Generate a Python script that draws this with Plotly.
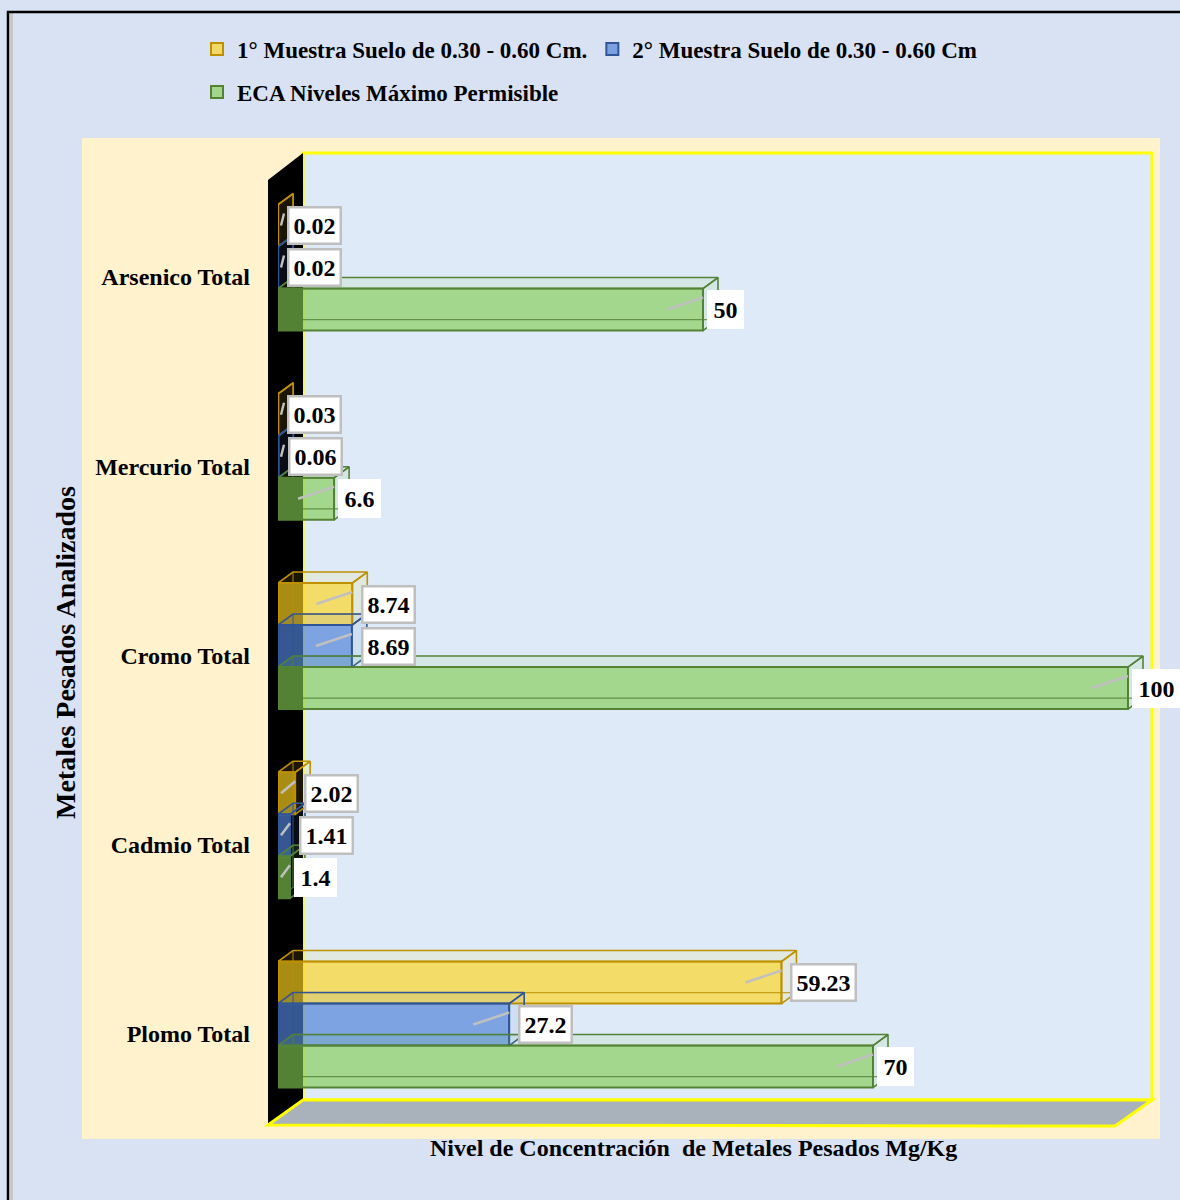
import plotly.graph_objects as go

# ---- data -------------------------------------------------------------
categorias = ["Plomo Total", "Cadmio Total", "Cromo Total", "Mercurio Total", "Arsenico Total"]
muestra_1 = [59.23, 2.02, 8.74, 0.03, 0.02]
muestra_2 = [27.2, 1.41, 8.69, 0.06, 0.02]
eca_max = [70, 1.4, 100, 6.6, 50]
series_nombres = [
    "1° Muestra Suelo de 0.30 - 0.60 Cm.",
    "2° Muestra Suelo de 0.30 - 0.60 Cm",
    "ECA Niveles Máximo Permisible",
]
titulo_x = "Nivel de Concentración  de Metales Pesados Mg/Kg"
titulo_y = "Metales Pesados Analizados"

# ---- geometry (pixels) ------------------------------------------------
FIG_W, FIG_H = 1180, 1200
L, R, T, B = 278, 1152, 153, 1100          # plot area
PX_PER_UNIT = 8.5                           # horizontal scale
X_MAX = (R - L) / PX_PER_UNIT
CAT_PX = 189.25                             # pixels per category step
TICK0_PX = 1034                             # pixel row of the first category
Y_MIN = -(B - TICK0_PX) / CAT_PX
Y_MAX = Y_MIN + (B - T) / CAT_PX
UX = 1 / PX_PER_UNIT                        # data units per pixel (x)
UY = 1 / CAT_PX                             # data units per pixel (y)
DX, DY = 15 * UX, 11 * UY                   # 3-D depth offset of each bar
BAR_H = 42 * UY

FONT = "Liberation Serif"


def px_x(p):
    return (p - L) / (R - L)


def px_y(p):
    return (B - p) / (B - T)


estilos = [
    dict(vals=muestra_1, fill="rgba(255,212,30,0.66)", edge="#BF9000",
         face="rgba(255,212,30,0.10)", off=0.161, box="#BFBFBF", shift=9),
    dict(vals=muestra_2, fill="rgba(80,130,215,0.68)", edge="#2F5597",
         face="rgba(80,130,215,0.10)", off=-0.061, box="#BFBFBF", shift=9),
    dict(vals=eca_max, fill="rgba(131,203,83,0.64)", edge="#548235",
         face="rgba(131,203,83,0.10)", off=-0.283, box="white", shift=4),
]

fig = go.Figure()
annotations = []
lead_x, lead_y = [], []
pos = list(range(len(categorias)))

for k, (est, nombre) in enumerate(zip(estilos, series_nombres)):
    # front faces
    fig.add_trace(go.Bar(
        y=pos, x=est["vals"], orientation="h", base=0,
        width=BAR_H, offset=est["off"], name=nombre,
        marker=dict(color=est["fill"], line=dict(color=est["edge"], width=2)),
        legend="legend" if k < 2 else "legend2",
        hoverinfo="skip",
    ))
    # top and right faces, plus hidden back edges
    px_, py_ = [], []
    ex, ey = [], []
    for i, v in zip(pos, est["vals"]):
        yb = i + est["off"]
        yt = yb + BAR_H
        px_ += [0, v, v + DX, DX, 0, None]
        py_ += [yt, yt, yt + DY, yt + DY, yt, None]
        px_ += [v, v + DX, v + DX, v, v, None]
        py_ += [yb, yb + DY, yt + DY, yt, yb, None]
        ex += [0, DX, v + DX, None, DX, DX, None]
        ey += [yb, yb + DY, yb + DY, None, yb + DY, yt + DY, None]
        # leader line and value label
        cy = yb + BAR_H / 2
        x0 = max(v - 36 * UX, 3 * UX)
        x1 = max(v, x0 + 3 * UX)
        lead_x += [x0, x1, None]
        lead_y += [cy, cy + 12 * UY, None]
        annotations.append(dict(
            x=v, y=cy, xref="x", yref="y", text=f"{v:g}", showarrow=False,
            xanchor="left", yanchor="middle", xshift=est["shift"],
            font=dict(family=FONT, size=24, color="black", weight="bold"),
            bgcolor="white", bordercolor=est["box"], borderwidth=2.5, borderpad=4,
        ))
    fig.add_trace(go.Scatter(
        x=px_, y=py_, mode="lines", fill="toself", fillcolor=est["face"],
        line=dict(color=est["edge"], width=1.6), showlegend=False, hoverinfo="skip",
        cliponaxis=False,
    ))
    fig.add_trace(go.Scatter(
        x=ex, y=ey, mode="lines", line=dict(color=est["edge"], width=1.2),
        opacity=0.8, showlegend=False, hoverinfo="skip", cliponaxis=False,
    ))

fig.add_trace(go.Scatter(
    x=lead_x, y=lead_y, mode="lines", line=dict(color="#C0C0C0", width=2.5),
    showlegend=False, hoverinfo="skip",
))

# ---- chart furniture --------------------------------------------------
def rect(x0, y0, x1, y1, **kw):
    return dict(type="rect", xref="paper", yref="paper", layer="below",
                x0=px_x(x0), x1=px_x(x1), y0=px_y(y0), y1=px_y(y1), **kw)


def poly(pts, **kw):
    d = "M" + "L".join(f"{px_x(a):.5f},{px_y(b):.5f}" for a, b in pts) + "Z"
    return dict(type="path", xref="paper", yref="paper", layer="below", path=d, **kw)


shapes = [
    rect(82, 138, 1160, 1139, fillcolor="#FFF2CC", line=dict(width=0)),
    rect(303, 153, 1152, 1100, fillcolor="#DEEAF7", line=dict(color="#FFFF00", width=3)),
    poly([(268, 180), (303, 153), (303, 1100), (268, 1125)],
         fillcolor="black", line=dict(width=0)),
    poly([(268, 1125), (303, 1100), (1152, 1100), (1115, 1126)],
         fillcolor="#A9B1BA", line=dict(color="#FFFF00", width=3)),
    rect(11, 14, 12, 1205, fillcolor="#C8C8C8", line=dict(color="#C8C8C8", width=2)),
    rect(8, 12, 1200, 1220, line=dict(color="black", width=2.5)),
]

annotations += [
    dict(text=titulo_x, xref="paper", yref="paper", x=px_x(693), y=px_y(1148),
         xanchor="center", yanchor="middle", showarrow=False,
         font=dict(family=FONT, size=24, color="black", weight="bold")),
    dict(text=titulo_y, xref="paper", yref="paper", x=px_x(65), y=px_y(653),
         xanchor="center", yanchor="middle", showarrow=False, textangle=-90,
         font=dict(family=FONT, size=28, color="black", weight="bold")),
]

legend_font = dict(family=FONT, size=23, color="black", weight="bold")
fig.update_layout(
    width=FIG_W, height=FIG_H,
    margin=dict(l=L, r=FIG_W - R, t=T, b=FIG_H - B, autoexpand=False),
    paper_bgcolor="#D9E2F3", plot_bgcolor="rgba(0,0,0,0)",
    barmode="overlay",
    shapes=shapes, annotations=annotations,
    xaxis=dict(range=[0, X_MAX], showticklabels=False, showgrid=False,
               zeroline=False, showline=False, ticks=""),
    yaxis=dict(range=[Y_MIN, Y_MAX], tickvals=pos, ticktext=categorias,
               showgrid=False, zeroline=False, showline=False, ticks="",
               ticklabelstandoff=27,
               tickfont=dict(family=FONT, size=24, color="black", weight="bold")),
    legend=dict(orientation="h", x=px_x(197), y=px_y(49), xanchor="left",
                yanchor="middle", font=legend_font, bgcolor="rgba(0,0,0,0)",
                traceorder="normal"),
    legend2=dict(orientation="h", x=px_x(197), y=px_y(92), xanchor="left",
                 yanchor="middle", font=legend_font, bgcolor="rgba(0,0,0,0)"),
    showlegend=True,
)

fig.write_html("out.html")
